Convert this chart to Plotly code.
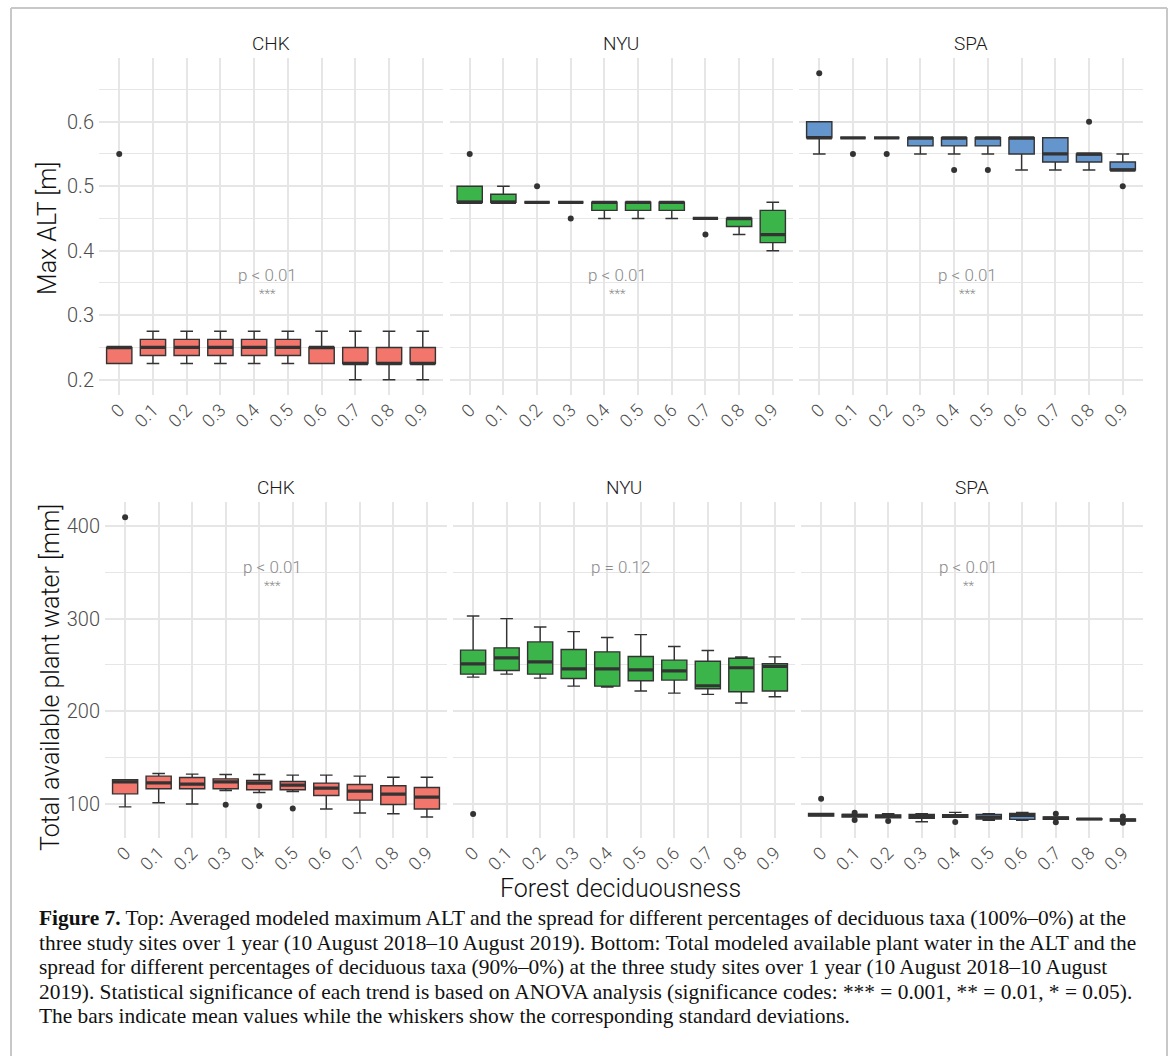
import plotly.graph_objects as go

W, H = 1173, 1056

cats = ["0", "0.1", "0.2", "0.3", "0.4", "0.5", "0.6", "0.7", "0.8", "0.9"]
sites = ["CHK", "NYU", "SPA"]
site_colors = ["#F2766B", "#3BB44A", "#6495CD"]

# --- top row: max ALT [m]
alt_chk_q1 = [0.225, 0.2375, 0.2375, 0.2375, 0.2375, 0.2375, 0.225, 0.225, 0.225, 0.225]
alt_chk_med = [0.25, 0.25, 0.25, 0.25, 0.25, 0.25, 0.25, 0.225, 0.225, 0.225]
alt_chk_q3 = [0.25, 0.2625, 0.2625, 0.2625, 0.2625, 0.2625, 0.25, 0.25, 0.25, 0.25]
alt_chk_lo = [0.225, 0.225, 0.225, 0.225, 0.225, 0.225, 0.225, 0.2, 0.2, 0.2]
alt_chk_hi = [0.25, 0.275, 0.275, 0.275, 0.275, 0.275, 0.275, 0.275, 0.275, 0.275]
alt_chk_out_x = ["0"]
alt_chk_out_y = [0.55]

alt_nyu_q1 = [0.475, 0.475, 0.475, 0.475, 0.4625, 0.4625, 0.4625, 0.45, 0.4375, 0.4125]
alt_nyu_med = [0.475, 0.475, 0.475, 0.475, 0.475, 0.475, 0.475, 0.45, 0.45, 0.425]
alt_nyu_q3 = [0.5, 0.4875, 0.475, 0.475, 0.475, 0.475, 0.475, 0.45, 0.45, 0.4625]
alt_nyu_lo = [0.475, 0.475, 0.475, 0.475, 0.45, 0.45, 0.45, 0.45, 0.425, 0.4]
alt_nyu_hi = [0.5, 0.5, 0.475, 0.475, 0.475, 0.475, 0.475, 0.45, 0.45, 0.475]
alt_nyu_out_x = ["0", "0.2", "0.3", "0.7"]
alt_nyu_out_y = [0.55, 0.5, 0.45, 0.425]

alt_spa_q1 = [0.575, 0.575, 0.575, 0.5625, 0.5625, 0.5625, 0.55, 0.5375, 0.5375, 0.525]
alt_spa_med = [0.575, 0.575, 0.575, 0.575, 0.575, 0.575, 0.575, 0.55, 0.55, 0.525]
alt_spa_q3 = [0.6, 0.575, 0.575, 0.575, 0.575, 0.575, 0.575, 0.575, 0.55, 0.5375]
alt_spa_lo = [0.55, 0.575, 0.575, 0.55, 0.55, 0.55, 0.525, 0.525, 0.525, 0.525]
alt_spa_hi = [0.6, 0.575, 0.575, 0.575, 0.575, 0.575, 0.575, 0.575, 0.55, 0.55]
alt_spa_out_x = ["0", "0.1", "0.2", "0.4", "0.5", "0.8", "0.9"]
alt_spa_out_y = [0.675, 0.55, 0.55, 0.525, 0.525, 0.6, 0.5]

# --- bottom row: total available plant water [mm]
apw_chk_q1 = [111, 116.5, 116.5, 116.5, 115.4, 115.4, 109.3, 104.3, 99.6, 94.6]
apw_chk_med = [124, 122.9, 121.5, 124, 122.6, 120.4, 117.2, 114, 110.8, 107.5]
apw_chk_q3 = [126.2, 130.1, 128.7, 127.2, 125.4, 124.4, 122.6, 121.1, 119.7, 117.9]
apw_chk_lo = [97, 101.4, 100, 114.7, 112.5, 113.6, 94.6, 90.3, 89.6, 86]
apw_chk_hi = [126.2, 133, 132.3, 131.9, 131.9, 131.2, 131.2, 130.1, 129, 129]
apw_chk_out_x = ["0", "0.3", "0.4", "0.5"]
apw_chk_out_y = [409.3, 99.3, 97.8, 95.3]

apw_nyu_q1 = [240.1, 244.1, 240.1, 235.5, 227.2, 233, 233.7, 224.4, 221.1, 221.9]
apw_nyu_med = [251.3, 257.7, 253.4, 245.9, 245.9, 244.8, 243.7, 227.6, 247, 248.4]
apw_nyu_q3 = [266, 268.5, 274.9, 266.7, 264.2, 259.1, 255.2, 254.1, 257.3, 251.3]
apw_nyu_lo = [236.9, 240.1, 235.8, 227.2, 226.2, 221.9, 219.7, 218.3, 209, 215.8]
apw_nyu_hi = [302.9, 300, 291, 286, 279.6, 282.8, 269.9, 265.6, 258.8, 258.8]
apw_nyu_out_x = ["0"]
apw_nyu_out_y = [89.3]

apw_spa_q1 = [87, 86, 85.3, 84.6, 85.7, 83.9, 83.5, 83.5, 83.4, 81.7]
apw_spa_med = [88.5, 87.8, 86.7, 86.7, 87.5, 86, 87.8, 84.9, 83.9, 82.8]
apw_spa_q3 = [90, 88.9, 88.2, 88.9, 88.5, 88.9, 90, 86, 84.3, 83.9]
apw_spa_lo = [87, 86, 85.3, 81, 85.7, 82.4, 82.4, 83.5, 83.4, 81.7]
apw_spa_hi = [90, 88.9, 89.6, 89.6, 91, 89.6, 91, 86, 84.3, 83.9]
apw_spa_out_x = ["0", "0.1", "0.1", "0.2", "0.4", "0.7", "0.7", "0.9", "0.9"]
apw_spa_out_y = [105.7, 90.7, 82.8, 81.7, 80.6, 89.6, 80.3, 86.7, 79.9]

p_top = ["p < 0.01", "p < 0.01", "p < 0.01"]
stars_top = ["***", "***", "***"]
p_bottom = ["p < 0.01", "p = 0.12", "p < 0.01"]
stars_bottom = ["***", "", "**"]

caption_lines = [
    "<b>Figure 7.</b> Top: Averaged modeled maximum ALT and the spread for different percentages of deciduous taxa (100%–0%) at the",
    "three study sites over 1 year (10 August 2018–10 August 2019). Bottom: Total modeled available plant water in the ALT and the",
    "spread for different percentages of deciduous taxa (90%–0%) at the three study sites over 1 year (10 August 2018–10 August",
    "2019). Statistical significance of each trend is based on ANOVA analysis (significance codes: *** = 0.001, ** = 0.01, * = 0.05).",
    "The bars indicate mean values while the whiskers show the corresponding standard deviations.",
]

top_panels = [
    (alt_chk_q1, alt_chk_med, alt_chk_q3, alt_chk_lo, alt_chk_hi, alt_chk_out_x, alt_chk_out_y),
    (alt_nyu_q1, alt_nyu_med, alt_nyu_q3, alt_nyu_lo, alt_nyu_hi, alt_nyu_out_x, alt_nyu_out_y),
    (alt_spa_q1, alt_spa_med, alt_spa_q3, alt_spa_lo, alt_spa_hi, alt_spa_out_x, alt_spa_out_y),
]
bottom_panels = [
    (apw_chk_q1, apw_chk_med, apw_chk_q3, apw_chk_lo, apw_chk_hi, apw_chk_out_x, apw_chk_out_y),
    (apw_nyu_q1, apw_nyu_med, apw_nyu_q3, apw_nyu_lo, apw_nyu_hi, apw_nyu_out_x, apw_nyu_out_y),
    (apw_spa_q1, apw_spa_med, apw_spa_q3, apw_spa_lo, apw_spa_hi, apw_spa_out_x, apw_spa_out_y),
]

# panel boxes in pixels (left, right), (top, bottom)
top_x = [(99, 443), (449.5, 793), (799, 1143)]
top_y = (58, 395)
bot_x = [(105, 447), (453, 795), (801, 1143)]
bot_y = (502, 838)

FONT = "Roboto"
GRID = "#E6E6E6"
INK = "#333333"


def fx(p):
    return p / W


def fy(p):
    return 1 - p / H


fig = go.Figure()
annotations = []
layout_axes = {}

rows = [
    (top_panels, top_x, top_y, [0.17625, 0.69875], [0.2, 0.3, 0.4, 0.5, 0.6], 0.05,
     p_top, stars_top, 0.362, 0.334),
    (bottom_panels, bot_x, bot_y, [63.4, 425.8], [100, 200, 300, 400], 50,
     p_bottom, stars_bottom, 356, 336),
]

n = 0
for panels, xs, ys, yrange, yticks, minor_dt, ptxt, stxt, py, sy in rows:
    for i, (q1, med, q3, lo, hi, ox, oy) in enumerate(panels):
        n += 1
        xa = "x" if n == 1 else f"x{n}"
        ya = "y" if n == 1 else f"y{n}"
        fig.add_trace(go.Box(
            x=cats, q1=q1, median=med, q3=q3, lowerfence=lo, upperfence=hi,
            fillcolor=site_colors[i], line=dict(color=INK, width=1.4),
            width=0.75, boxpoints=False, showlegend=False, hoverinfo="skip",
            xaxis=xa, yaxis=ya,
        ))
        # thicker median bar, like ggplot
        fig.add_trace(go.Box(
            x=cats, q1=med, median=med, q3=med, lowerfence=med, upperfence=med,
            fillcolor="rgba(0,0,0,0)", line=dict(color=INK, width=3.2),
            width=0.75, boxpoints=False, showlegend=False, hoverinfo="skip",
            xaxis=xa, yaxis=ya,
        ))
        fig.add_trace(go.Scatter(
            x=ox, y=oy, mode="markers", marker=dict(color=INK, size=6),
            showlegend=False, hoverinfo="skip", xaxis=xa, yaxis=ya,
        ))

        key = "" if n == 1 else str(n)
        layout_axes["xaxis" + key] = dict(
            domain=[fx(xs[i][0]), fx(xs[i][1])], anchor=ya,
            type="category", categoryorder="array", categoryarray=cats,
            range=[-0.6, 9.6], showgrid=True, gridcolor=GRID, gridwidth=1.8,
            zeroline=False, showline=False, ticks="", tickangle=-45,
            tickfont=dict(family=FONT, size=18, color="#4D4D4D", weight=300),
        )
        layout_axes["yaxis" + key] = dict(
            domain=[fy(ys[1]), fy(ys[0])], anchor=xa, range=yrange,
            tickvals=yticks, showticklabels=(i == 0),
            showgrid=True, gridcolor=GRID, gridwidth=1.8,
            minor=dict(dtick=minor_dt, tick0=0, showgrid=True, gridcolor=GRID, gridwidth=1.2),
            zeroline=False, showline=False, ticks="", ticklabelstandoff=4,
            tickfont=dict(family=FONT, size=20, color="#4D4D4D", weight=300),
        )

        # facet strip
        annotations.append(dict(
            x=fx((xs[i][0] + xs[i][1]) / 2), y=fy(ys[0] - 15), xref="paper", yref="paper",
            text=sites[i], showarrow=False, xanchor="center", yanchor="middle",
            font=dict(family=FONT, size=19, color="#1A1A1A", weight=300),
        ))
        # significance labels
        annotations.append(dict(
            x=4.4, y=py, xref=xa, yref=ya, text=ptxt[i], showarrow=False,
            xanchor="center", yanchor="middle",
            font=dict(family=FONT, size=17, color="#8A8A8A", weight=300),
        ))
        if stxt[i]:
            annotations.append(dict(
                x=4.4, y=sy, xref=xa, yref=ya, text=stxt[i], showarrow=False,
                xanchor="center", yanchor="middle",
                font=dict(family=FONT, size=13, color="#8A8A8A", weight=300),
            ))

# axis titles
annotations.append(dict(
    x=fx(48), y=fy(229), xref="paper", yref="paper", text="Max ALT [m]",
    textangle=-90, showarrow=False, xanchor="center", yanchor="middle",
    font=dict(family=FONT, size=25, color="#111111", weight=300),
))
annotations.append(dict(
    x=fx(50), y=fy(678), xref="paper", yref="paper", text="Total available plant water [mm]",
    textangle=-90, showarrow=False, xanchor="center", yanchor="middle",
    font=dict(family=FONT, size=25, color="#111111", weight=300),
))
annotations.append(dict(
    x=fx(620), y=fy(888), xref="paper", yref="paper", text="Forest deciduousness",
    showarrow=False, xanchor="center", yanchor="middle",
    font=dict(family=FONT, size=25, color="#111111", weight=300),
))

# caption
for k, line in enumerate(caption_lines):
    annotations.append(dict(
        x=fx(37), y=fy(918 + 24.5 * k), xref="paper", yref="paper", text=line,
        showarrow=False, xanchor="left", yanchor="middle",
        font=dict(family="Liberation Serif", size=21.4, color="#111111"),
    ))

frame = dict(color="#C8C8C8", width=2)
shapes = [
    dict(type="line", xref="paper", yref="paper", x0=fx(11), x1=fx(11), y0=fy(8), y1=0, line=frame),
    dict(type="line", xref="paper", yref="paper", x0=fx(11), x1=fx(1167), y0=fy(8), y1=fy(8), line=frame),
    dict(type="line", xref="paper", yref="paper", x0=fx(1167), x1=fx(1167), y0=fy(8), y1=0, line=frame),
]

fig.update_layout(
    width=W, height=H, margin=dict(l=0, r=0, t=0, b=0),
    paper_bgcolor="white", plot_bgcolor="white",
    boxmode="overlay", annotations=annotations, shapes=shapes,
    font=dict(family=FONT),
    **layout_axes,
)

fig.write_html("out.html", config={"displayModeBar": False},
               post_script="document.body.style.margin='0';")
